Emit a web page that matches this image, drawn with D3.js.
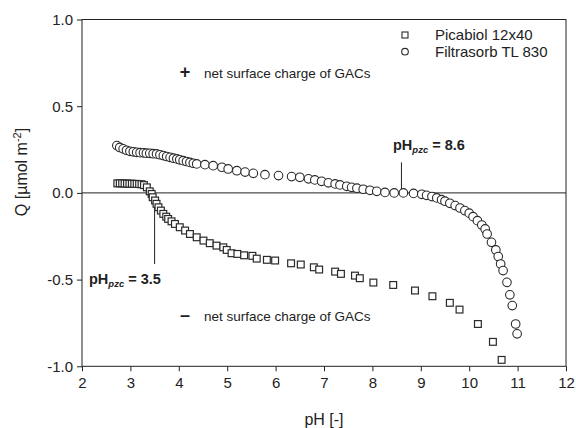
<!DOCTYPE html>
<html>
<head>
<meta charset="utf-8">
<script src="https://cdn.jsdelivr.net/npm/d3@7"></script>
<style>
  html, body { margin: 0; padding: 0; background: #fff; }
  svg { display: block; font-family: "Liberation Sans", Arial, sans-serif; }
</style>
</head>
<body>
<svg id="chart" width="576" height="428"></svg>
<script>
// Surface charge Q (µmol m^-2) versus pH for two granular activated carbons
const picabiolPH = [2.73, 2.78, 2.83, 2.88, 2.93, 2.98, 3.03, 3.08, 3.13, 3.18, 3.23, 3.28,
  3.34, 3.40, 3.44, 3.46, 3.51, 3.54, 3.58, 3.63, 3.68, 3.74, 3.78, 3.85, 3.92, 4.02,
  4.13, 4.23, 4.37, 4.51, 4.64, 4.78, 4.92, 4.99, 5.09, 5.21, 5.35, 5.52, 5.61, 5.82,
  5.99, 6.32, 6.52, 6.79, 6.90, 7.23, 7.35, 7.64, 7.74, 8.02, 8.43, 8.88, 9.24, 9.60,
  9.80, 10.18, 10.49, 10.67];
const picabiolQ = [0.055, 0.055, 0.055, 0.054, 0.054, 0.053, 0.053, 0.052, 0.052, 0.051, 0.050, 0.045,
  0.032, 0.009, -0.006, -0.025, -0.044, -0.063, -0.083, -0.102, -0.121, -0.137, -0.150, -0.164, -0.179, -0.198,
  -0.217, -0.237, -0.256, -0.275, -0.290, -0.304, -0.314, -0.329, -0.348, -0.352, -0.360, -0.363, -0.379, -0.386,
  -0.390, -0.406, -0.413, -0.429, -0.442, -0.454, -0.467, -0.477, -0.492, -0.517, -0.531, -0.563, -0.596, -0.634,
  -0.673, -0.756, -0.859, -0.963];

const filtrasorbPH = [2.72, 2.78, 2.85, 2.92, 2.99, 3.06, 3.13, 3.20, 3.27, 3.33, 3.40, 3.47, 3.54,
  3.61, 3.68, 3.75, 3.82, 3.89, 3.96, 4.02, 4.09, 4.16, 4.23, 4.30, 4.37, 4.54, 4.71, 4.89,
  5.02, 5.20, 5.37, 5.54, 5.78, 6.06, 6.33, 6.50, 6.68, 6.81, 6.95, 7.09, 7.23, 7.33, 7.47,
  7.57, 7.68, 7.81, 7.95, 8.09, 8.26, 8.45, 8.64, 8.85, 9.02, 9.12, 9.23, 9.33, 9.43, 9.50,
  9.60, 9.71, 9.81, 9.91, 10.00, 10.08, 10.17, 10.26, 10.33, 10.37, 10.46, 10.55, 10.60,
  10.65, 10.70, 10.78, 10.84, 10.89, 10.96, 10.99];
const filtrasorbQ = [0.273, 0.262, 0.254, 0.246, 0.240, 0.237, 0.234, 0.232, 0.231, 0.229, 0.228, 0.226, 0.225,
  0.220, 0.215, 0.210, 0.205, 0.200, 0.196, 0.191, 0.186, 0.181, 0.176, 0.171, 0.167, 0.163, 0.157, 0.148,
  0.138, 0.128, 0.120, 0.113, 0.105, 0.100, 0.094, 0.090, 0.081, 0.075, 0.067, 0.058, 0.052, 0.046, 0.038,
  0.032, 0.027, 0.021, 0.015, 0.009, 0.003, 0.000, 0.000, -0.003, -0.008, -0.014, -0.021, -0.029, -0.039, -0.048,
  -0.060, -0.073, -0.087, -0.102, -0.117, -0.137, -0.160, -0.185, -0.208, -0.237, -0.285, -0.329, -0.367,
  -0.410, -0.448, -0.516, -0.588, -0.650, -0.756, -0.813];

const seriesNames = ["Picabiol 12x40", "Filtrasorb TL 830"];
const xTicks = [2, 3, 4, 5, 6, 7, 8, 9, 10, 11, 12];
const yTicks = [-1.0, -0.5, 0.0, 0.5, 1.0];
const pzcValues = [3.5, 8.6];

const svg = d3.select("#chart");
const ink = "#222";
const plot = { left: 82, right: 566, top: 19.5, bottom: 366.3 };

const x = d3.scaleLinear().domain([2, 12]).range([plot.left, plot.right]);
const y = d3.scaleLinear().domain([-1, 1]).range([plot.bottom, plot.top]);

// frame
svg.append("rect")
  .attr("x", plot.left).attr("y", plot.top)
  .attr("width", plot.right - plot.left).attr("height", plot.bottom - plot.top)
  .attr("fill", "none").attr("stroke", ink).attr("stroke-width", 1);

// axes (plain hyphen for negative tick labels)
const xAxis = svg.append("g")
  .attr("transform", `translate(0,${plot.bottom})`)
  .call(d3.axisBottom(x).tickValues(xTicks).tickFormat(d => String(d)).tickSize(5).tickPadding(6));
const yAxis = svg.append("g")
  .attr("transform", `translate(${plot.left},0)`)
  .call(d3.axisLeft(y).tickValues(yTicks).tickFormat(d => d.toFixed(1)).tickSize(5).tickPadding(4));
[xAxis, yAxis].forEach(g => {
  g.select(".domain").remove();
  g.selectAll("line").attr("stroke", ink);
  g.selectAll("text").attr("fill", ink).style("font-size", "15px")
    .style("font-family", "'Liberation Sans', Arial, sans-serif");
});

// zero line
svg.append("line")
  .attr("x1", plot.left).attr("x2", plot.right)
  .attr("y1", y(0)).attr("y2", y(0))
  .attr("stroke", ink).attr("stroke-width", 1);

// axis titles
svg.append("text")
  .attr("x", (plot.left + plot.right) / 2).attr("y", 425)
  .attr("text-anchor", "middle").attr("fill", ink).style("font-size", "16px")
  .text("pH [-]");
const yTitle = svg.append("text")
  .attr("transform", "translate(27,172) rotate(-90)")
  .attr("text-anchor", "middle").attr("fill", ink).style("font-size", "16px");
yTitle.append("tspan").text("Q [µmol m");
yTitle.append("tspan").attr("dy", -6).style("font-size", "11px").text("-2");
yTitle.append("tspan").attr("dy", 6).text("]");

// point of zero charge markers
const pzcLabels = [
  { pH: pzcValues[0], y1: 0, y2: -0.41, tx: 89, ty: 284 },
  { pH: pzcValues[1], y1: 0, y2: 0.176, tx: 393, ty: 150 }
];
pzcLabels.forEach(p => {
  svg.append("line")
    .attr("x1", x(p.pH)).attr("x2", x(p.pH))
    .attr("y1", y(p.y1)).attr("y2", y(p.y2))
    .attr("stroke", ink).attr("stroke-width", 1);
  const t = svg.append("text").attr("x", p.tx).attr("y", p.ty)
    .attr("fill", ink).style("font-size", "14.5px").style("font-weight", "bold");
  t.append("tspan").text("pH");
  t.append("tspan").attr("dy", 3).style("font-size", "9.5px").style("font-style", "italic").text("pzc");
  t.append("tspan").attr("dy", -3).text(` = ${p.pH.toFixed(1)}`);
});

// data markers
const sq = 6.8, rc = 4.3;
const picabiol = picabiolPH.map((p, i) => ({ pH: p, q: picabiolQ[i] }));
const filtrasorb = filtrasorbPH.map((p, i) => ({ pH: p, q: filtrasorbQ[i] }));

svg.append("g").selectAll("rect").data(picabiol).join("rect")
  .attr("x", d => x(d.pH) - sq / 2).attr("y", d => y(d.q) - sq / 2)
  .attr("width", sq).attr("height", sq)
  .attr("fill", "#fff").attr("stroke", "#2a2a2a").attr("stroke-width", 1.2);

svg.append("g").selectAll("circle").data(filtrasorb).join("circle")
  .attr("cx", d => x(d.pH)).attr("cy", d => y(d.q)).attr("r", rc)
  .attr("fill", "#fff").attr("stroke", "#2a2a2a").attr("stroke-width", 1.1);

// charge sign notes
const notes = [
  { sign: "+", q: 0.69 },
  { sign: "\u2013", q: -0.71 }
];
notes.forEach(n => {
  svg.append("text").attr("x", 185).attr("y", y(n.q) + 5)
    .attr("text-anchor", "middle").attr("fill", ink)
    .style("font-size", "18px").style("font-weight", "bold").text(n.sign);
  svg.append("text").attr("x", 204).attr("y", y(n.q) + 5)
    .attr("fill", ink).style("font-size", "13.5px").text("net surface charge of GACs");
});

// legend
const legend = svg.append("g");
seriesNames.forEach((name, i) => {
  const ly = 35 + i * 16.7;
  if (i === 0) {
    legend.append("rect").attr("x", 405 - 3).attr("y", ly - 3).attr("width", 6).attr("height", 6)
      .attr("fill", "#fff").attr("stroke", "#2a2a2a").attr("stroke-width", 1.1);
  } else {
    legend.append("circle").attr("cx", 405).attr("cy", ly).attr("r", 3.3)
      .attr("fill", "#fff").attr("stroke", "#2a2a2a").attr("stroke-width", 1.1);
  }
  legend.append("text").attr("x", 435).attr("y", ly + 5)
    .attr("fill", ink).style("font-size", "15px").text(name);
});
</script>
</body>
</html>
